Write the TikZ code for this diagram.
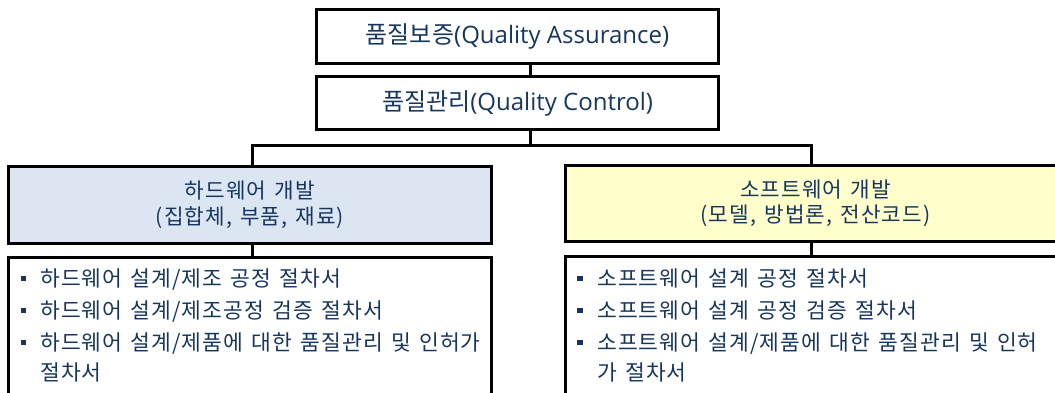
\documentclass[tikz,border=0pt]{standalone}
\usepackage{fontspec}
\setmainfont{Open Sans}
\newfontfamily\kr{Noto Sans CJK KR}
\newfontfamily\krs[LetterSpace=5,WordSpace=1.4]{Noto Sans CJK KR}
\definecolor{navy}{HTML}{17365F}
\definecolor{hwfill}{HTML}{DCE6F2}
\definecolor{swfill}{HTML}{FFFFCC}
\begin{document}
\begin{tikzpicture}[x=1pt,y=-1pt,
  box/.style={draw=black,line width=3pt,rectangle,inner sep=0pt,text=navy,align=center},
  conn/.style={draw=black,line width=3pt,line join=miter},
  titlefont/.style={font=\fontsize{24}{28}\selectfont},
  headfont/.style={font=\krs\fontsize{21.3}{25.5}\selectfont},
  itemline/.style={anchor=base west,inner sep=0pt,text=navy,font=\krs\fontsize{21.5}{24}\selectfont},
  bul/.style={fill=navy,inner sep=0pt,minimum size=5.5pt,rectangle}]
\useasboundingbox (0,0) rectangle (1055,393);
\clip (0,0) rectangle (1055,393);
% junction coordinates
\coordinate (jx) at (530,146);
\coordinate (hwx) at (252,146);
\coordinate (swx) at (811,146);
% boxes
\node[box,minimum width=402pt,minimum height=54pt,titlefont] (qa) at (517.5,36.5) {{\kr 품질보증}(Quality Assurance)};
\node[box,minimum width=402pt,minimum height=53pt,titlefont] (qc) at (517.5,103) {{\kr 품질관리}(Quality Control)};
\node[box,fill=hwfill,minimum width=483pt,minimum height=77pt,headfont] (hw) at (250,205) {하드웨어 개발\\(집합체, 부품, 재료)};
\node[box,fill=swfill,minimum width=500pt,minimum height=76pt,headfont] (sw) at (815.5,203.5) {소프트웨어 개발\\(모델, 방법론, 전산코드)};
\node[box,fill=white,minimum width=483pt,minimum height=160pt] (hwl) at (250,337.5) {};
\node[box,fill=white,minimum width=500pt,minimum height=160pt] (swl) at (815.5,336.5) {};
% connectors
\draw[conn] (qa.south -| jx) -- (qc.north -| jx);
\draw[conn] (qc.south -| jx) -- (jx);
\draw[conn] (hw.north -| hwx) -- (hwx) -- (swx) -- (sw.north -| swx);
\draw[conn] (hw.south -| hwx) -- (hwl.north -| hwx);
\draw[conn] (sw.south -| swx) -- (swl.north -| swx);
% hardware list
\node[bul] (hb1) at (23.5,278.5) {};
\node[bul] (hb2) at (23.5,310.5) {};
\node[bul] (hb3) at (23.5,342.5) {};
\node[itemline] (h1) at (40,286) {하드웨어 설계/제조 공정 절차서};
\node[itemline] (h2) at (40,318) {하드웨어 설계/제조공정 검증 절차서};
\node[itemline] (h3) at (40,350) {하드웨어 설계/제품에 대한 품질관리 및 인허가};
\node[itemline] (h4) at (40,380) {절차서};
% software list
\node[bul] (sb1) at (580,278.5) {};
\node[bul] (sb2) at (580,310.5) {};
\node[bul] (sb3) at (580,342.5) {};
\node[itemline] (s1) at (597,286) {소프트웨어 설계 공정 절차서};
\node[itemline] (s2) at (597,318) {소프트웨어 설계 공정 검증 절차서};
\node[itemline] (s3) at (597,350) {소프트웨어 설계/제품에 대한 품질관리 및 인허};
\node[itemline] (s4) at (597,380) {가 절차서};
\end{tikzpicture}
\end{document}
